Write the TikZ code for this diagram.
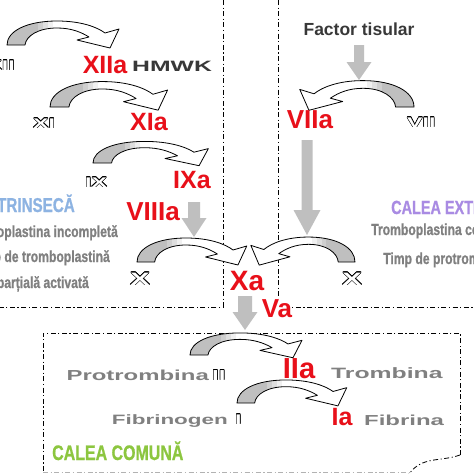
\documentclass[tikz,border=0pt]{standalone}
\usepackage{fontspec}
\setmainfont{Liberation Sans}
\newfontfamily\widef{Liberation Sans}[FakeStretch=1.65]
\newfontfamily\narrowf{Liberation Sans}[FakeStretch=0.76,FakeBold=0.8]
\usepackage{contour}
\contourlength{0.5pt}
\contournumber{12}
\definecolor{cred}{HTML}{E8101A}
\definecolor{cgrayt}{HTML}{808080}
\definecolor{cdark}{HTML}{383838}
\definecolor{cblue}{HTML}{8DB3E2}
\definecolor{cviolet}{HTML}{A98BE3}
\definecolor{cgreen}{HTML}{8CC63F}
\definecolor{carrow}{HTML}{BFBFBF}
\tikzset{
  redlab/.style={text=cred, font=\bfseries\fontsize{25}{25}\selectfont, inner sep=0pt, anchor=base},
  widelab/.style={text=cgrayt, font=\widef\bfseries\fontsize{14.5}{14.5}\selectfont, inner sep=0pt, anchor=base west},
  outlab/.style={text=white, font=\widef\bfseries\fontsize{14}{14}\selectfont, inner sep=0pt, anchor=base west},
  narrowlab/.style={text=cgrayt, font=\narrowf\bfseries\fontsize{16}{16}\selectfont, inner sep=0pt},
  dashdot/.style={line width=0.8pt, dash pattern=on 5pt off 2.5pt on 1.2pt off 2.5pt},
  bandline/.style={line width=0.8pt, line join=round, draw=black}
}
\def\cpath{(0,0) .. controls (0,14) and (20,24) .. (50,24) .. controls (74,24) and (90,18) .. (98,12) -- (112,16) -- (103,-3) -- (70,5) -- (82,8) .. controls (74,13) and (64,17) .. (50,17) .. controls (31,17) and (19,9) .. (18,0) -- cycle}
\newcommand\carrow[4]{%
  \begin{scope}[shift={(#1,#2)}, xscale=#3, yscale=-#4]
    \fill[white] \cpath;
    \begin{scope}
      \clip \cpath;
      \fill[gray!50] (-2,-4) rectangle (31,30);
      \fill[gray!38] (31,-4) rectangle (36,30);
      \fill[gray!25] (36,-4) rectangle (41,30);
      \fill[gray!12] (41,-4) rectangle (46,30);
    \end{scope}
    \draw[bandline] \cpath;
  \end{scope}}
\newcommand\garrow[6]{\fill[carrow] ({#1-#4},#2) -- ({#1+#4},#2) -- ({#1+#4},{#3-#6}) -- ({#1+#5},{#3-#6}) -- (#1,#3) -- ({#1-#5},{#3-#6}) -- ({#1-#4},{#3-#6}) -- cycle;}
\begin{document}
\begin{tikzpicture}[x=1pt,y=-1pt]
\useasboundingbox (0,0) rectangle (474,474);
\fill[white] (0,0) rectangle (474,474);
\clip (0,0) rectangle (474,474);
% frames
\draw[dashdot] (223,0) -- (223,307) -- (0,307);
\draw[dashdot] (278,0) -- (278,307) -- (474,307);
\draw[dashdot] (460,455) -- (460,333) -- (43,333) -- (43,472);
\draw[dashdot, draw=gray!60] (43,472) -- (409,472);
\draw[dashdot] (460,455) .. controls (440,462) and (422,456) .. (409,474);
% curved arrows
\carrow{7}{45}{1}{1}
\carrow{50}{107}{1.05}{1.06}
\carrow{93}{163}{1.03}{0.9}
\carrow{414}{107}{-1.02}{1.1}
\carrow{137}{262}{0.98}{1.0}
\carrow{355}{262}{-0.93}{1.04}
\carrow{190}{355}{1.0}{0.92}
\carrow{237}{403}{0.98}{0.96}
% gray straight arrows
\garrow{359}{45}{80}{5}{12.5}{18}
\garrow{194}{202}{237}{6}{12.5}{19}
\garrow{307}{140}{235}{5.5}{13.5}{25}
\garrow{245}{296}{330}{7}{12.5}{18}
% intrinsic
\node[outlab, anchor=base east] (xii) at (15,70) {\contour{black}{XII}};
\node[redlab] (xiia) at (105,73) {XIIa};
\node[inner sep=0pt, anchor=base west, text=cdark, font=\widef\bfseries\fontsize{15}{15}\selectfont] (hmwk) at (132,71) {HMWK};
\node[outlab] (xi) at (33,128) {\contour{black}{XI}};
\node[redlab] (xia) at (149,130) {XIa};
\node[outlab] (ix) at (85,187) {\contour{black}{IX}};
\node[redlab] (ixa) at (192,188) {IXa};
\node[redlab, font=\bfseries\fontsize{26}{26}\selectfont] (viiia) at (153,220) {VIIIa};
\node[narrowlab, text=cblue, font=\narrowf\bfseries\fontsize{20}{20}\selectfont, anchor=base east] (intr) at (75,212) {CALEA INTRINSECĂ};
\node[narrowlab, anchor=base east] (l1) at (118,237) {Tromboplastina incompletă};
\node[narrowlab, anchor=base east] (l2) at (110,262) {Timp de tromboplastină};
\node[narrowlab, anchor=base east] (l3) at (89,288) {parțială activată};
% extrinsic
\node[inner sep=0pt, anchor=base, text=cdark, font=\bfseries\fontsize{17.5}{17.5}\selectfont] (ft) at (359,35) {Factor tisular};
\node[redlab, font=\bfseries\fontsize{26}{26}\selectfont] (viia) at (310,128) {VIIa};
\node[outlab] (vii) at (407,127) {\contour{black}{VII}};
\node[narrowlab, text=cviolet, font=\narrowf\bfseries\fontsize{19}{19}\selectfont, anchor=base west] (extr) at (391,214) {CALEA EXTRINSECĂ};
\node[narrowlab, anchor=base west] (r1) at (371,235) {Tromboplastina completă};
\node[narrowlab, anchor=base west] (r2) at (383,264) {Timp de protrombină};
% X
\node[outlab, font=\widef\bfseries\fontsize{18}{18}\selectfont] (xl) at (130,285) {\contour{black}{X}};
\node[outlab, font=\widef\bfseries\fontsize{18}{18}\selectfont] (xr) at (342,285) {\contour{black}{X}};
\node[redlab, font=\bfseries\fontsize{28}{28}\selectfont] (xa) at (247,290) {Xa};
\node[redlab, font=\bfseries\fontsize{26}{26}\selectfont, fill=white] (va) at (277,317) {Va};
% common
\node[widelab, anchor=base east] (pro) at (209,380) {Protrombina};
\node[outlab, font=\widef\bfseries\fontsize{14.5}{14.5}\selectfont] (ii) at (212,380) {\contour{black}{II}};
\node[redlab, font=\bfseries\fontsize{29}{29}\selectfont] (iia) at (299,378) {IIa};
\node[widelab, font=\widef\bfseries\fontsize{15}{15}\selectfont] (tro) at (331,378) {Trombina};
\node[widelab, anchor=base east, font=\widef\bfseries\fontsize{13.6}{13.6}\selectfont] (fbg) at (228,424) {Fibrinogen};
\node[outlab] (i1) at (235,424) {\contour{black}{I}};
\node[redlab] (ia) at (342,425) {Ia};
\node[widelab] (fbr) at (364,425) {Fibrina};
\node[narrowlab, text=cgreen, font=\narrowf\bfseries\fontsize{21}{21}\selectfont, anchor=base west] (com) at (52,460) {CALEA COMUNĂ};
\end{tikzpicture}
\end{document}
